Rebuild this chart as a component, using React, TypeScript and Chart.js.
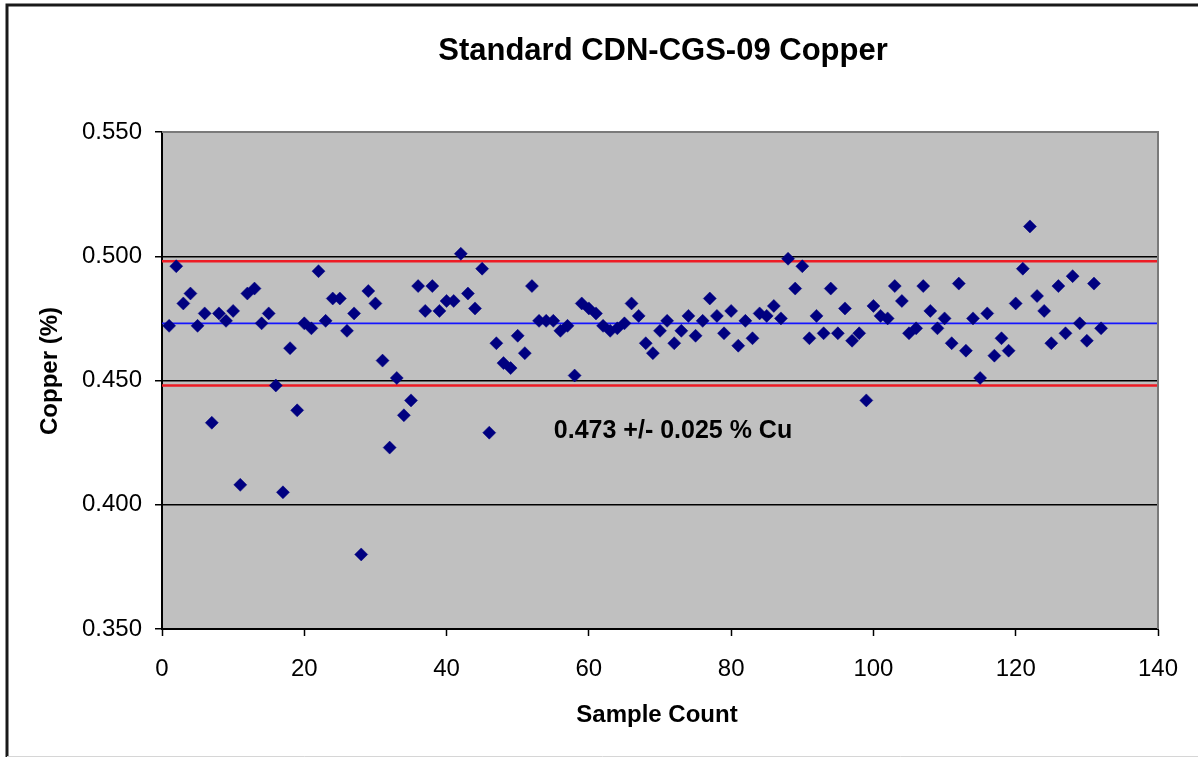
import React, { useEffect, useRef } from "react";
import { Chart, registerables } from "chart.js";

Chart.register(...registerables);

const TITLE = "Standard CDN-CGS-09 Copper";
const X_TITLE = "Sample Count";
const Y_TITLE = "Copper (%)";
const NOTE = "0.473 +/- 0.025 % Cu";

// Copper assay results (%), one per sample, samples 1..132
const copperValues = [
  0.472, 0.496, 0.481, 0.485, 0.472, 0.477, 0.433, 0.477, 0.474, 0.478,
  0.408, 0.485, 0.487, 0.473, 0.477, 0.448, 0.405, 0.463, 0.438, 0.473,
  0.471, 0.494, 0.474, 0.483, 0.483, 0.470, 0.477, 0.380, 0.486, 0.481,
  0.458, 0.423, 0.451, 0.436, 0.442, 0.488, 0.478, 0.488, 0.478, 0.482,
  0.482, 0.501, 0.485, 0.479, 0.495, 0.429, 0.465, 0.457, 0.455, 0.468,
  0.461, 0.488, 0.474, 0.474, 0.474, 0.470, 0.472, 0.452, 0.481, 0.479,
  0.477, 0.472, 0.470, 0.471, 0.473, 0.481, 0.476, 0.465, 0.461, 0.470,
  0.474, 0.465, 0.470, 0.476, 0.468, 0.474, 0.483, 0.476, 0.469, 0.478,
  0.464, 0.474, 0.467, 0.477, 0.476, 0.480, 0.475, 0.499, 0.487, 0.496,
  0.467, 0.476, 0.469, 0.487, 0.469, 0.479, 0.466, 0.469, 0.442, 0.480,
  0.476, 0.475, 0.488, 0.482, 0.469, 0.471, 0.488, 0.478, 0.471, 0.475,
  0.465, 0.489, 0.462, 0.475, 0.451, 0.477, 0.460, 0.467, 0.462, 0.481,
  0.495, 0.512, 0.484, 0.478, 0.465, 0.488, 0.469, 0.492, 0.473, 0.466,
  0.489, 0.471,
];

const meanValue = 0.473;
const upperLimit = 0.498;
const lowerLimit = 0.448;

const xMin = 0;
const xMax = 140;
const xStep = 20;
const yMin = 0.35;
const yMax = 0.55;
const yStep = 0.05;

const FONT = "Arial, 'Liberation Sans', Helvetica, sans-serif";

export default function App() {
  const ref = useRef<HTMLCanvasElement>(null);

  useEffect(() => {
    if (!ref.current) return;

    const decor = {
      id: "decor",
      beforeDraw(chart: any) {
        const { ctx, chartArea: a } = chart;
        ctx.save();
        ctx.fillStyle = "#ffffff";
        ctx.fillRect(0, 0, chart.width, chart.height);
        ctx.fillStyle = "#c0c0c0";
        ctx.fillRect(a.left, a.top, a.right - a.left, a.bottom - a.top);
        ctx.restore();
      },
      afterDraw(chart: any) {
        const { ctx, chartArea: a } = chart;
        ctx.save();
        // plot area border (top / right)
        ctx.strokeStyle = "#7a7a7a";
        ctx.lineWidth = 2;
        ctx.beginPath();
        ctx.moveTo(a.left, a.top);
        ctx.lineTo(a.right, a.top);
        ctx.lineTo(a.right, a.bottom);
        ctx.stroke();

        // outer frame
        ctx.strokeStyle = "#1a1a1a";
        ctx.lineWidth = 3;
        ctx.beginPath();
        ctx.moveTo(7, chart.height);
        ctx.lineTo(7, 5);
        ctx.lineTo(chart.width, 5);
        ctx.stroke();
        ctx.strokeStyle = "#d6d6d6";
        ctx.lineWidth = 1;
        ctx.beginPath();
        ctx.moveTo(7, chart.height - 0.5);
        ctx.lineTo(chart.width, chart.height - 0.5);
        ctx.stroke();

        // texts
        ctx.fillStyle = "#000";
        ctx.textAlign = "center";
        ctx.textBaseline = "alphabetic";
        ctx.font = `bold 31px ${FONT}`;
        ctx.fillText(TITLE, 663, 60);

        ctx.font = `bold 24px ${FONT}`;
        ctx.fillText(X_TITLE, 657, 722);

        ctx.save();
        ctx.translate(57, 371);
        ctx.rotate(-Math.PI / 2);
        ctx.fillText(Y_TITLE, 0, 0);
        ctx.restore();

        ctx.font = `bold 25px ${FONT}`;
        ctx.fillText(NOTE, 673, 438);
        ctx.restore();
      },
    };

    const points = copperValues.map((v, i) => ({ x: i + 1, y: v }));
    const hLine = (y: number) => [
      { x: xMin, y },
      { x: xMax, y },
    ];

    const chart = new Chart(ref.current, {
      type: "scatter",
      data: {
        datasets: [
          {
            label: "Copper",
            data: points,
            pointStyle: "rectRot",
            pointRadius: 6.5,
            backgroundColor: "#000080",
            borderColor: "#000080",
            borderWidth: 0.5,
          },
          {
            label: "Mean",
            data: hLine(meanValue),
            showLine: true,
            borderColor: "#1515ff",
            borderWidth: 1.8,
            pointRadius: 0,
          },
          {
            label: "Upper",
            data: hLine(upperLimit),
            showLine: true,
            borderColor: "#ee1c25",
            borderWidth: 2.5,
            pointRadius: 0,
          },
          {
            label: "Lower",
            data: hLine(lowerLimit),
            showLine: true,
            borderColor: "#ee1c25",
            borderWidth: 2.5,
            pointRadius: 0,
          },
        ],
      },
      options: {
        responsive: false,
        animation: false,
        events: [],
        layout: { padding: { left: 0, top: 132, right: 40, bottom: 0 } },
        plugins: {
          legend: { display: false },
          tooltip: { enabled: false },
          title: { display: false },
        },
        scales: {
          x: {
            type: "linear",
            min: xMin,
            max: xMax,
            ticks: {
              stepSize: xStep,
              color: "#000",
              font: { size: 24, family: FONT },
              padding: 19,
              maxRotation: 0,
            },
            grid: {
              drawOnChartArea: false,
              tickLength: 7,
              tickColor: "#000",
              tickWidth: 1.5,
            },
            border: { color: "#000", width: 2 },
            afterFit(scale: any) {
              scale.height = 128;
            },
          },
          y: {
            type: "linear",
            min: yMin,
            max: yMax,
            ticks: {
              stepSize: yStep,
              color: "#000",
              font: { size: 24, family: FONT },
              padding: 13,
              callback: (v: any) => Number(v).toFixed(3),
            },
            grid: {
              color: "#000",
              lineWidth: 1.5,
              tickLength: 7,
              tickColor: "#000",
              tickWidth: 1.5,
            },
            border: { color: "#000", width: 2 },
            afterFit(scale: any) {
              scale.width = 162;
            },
          },
        },
      },
      plugins: [decor],
    } as any);

    return () => chart.destroy();
  }, []);

  return (
    <div style={{ position: "absolute", left: 0, top: 0, width: 1198, height: 757 }}>
      <canvas ref={ref} width={1198} height={757} style={{ display: "block" }} />
    </div>
  );
}
